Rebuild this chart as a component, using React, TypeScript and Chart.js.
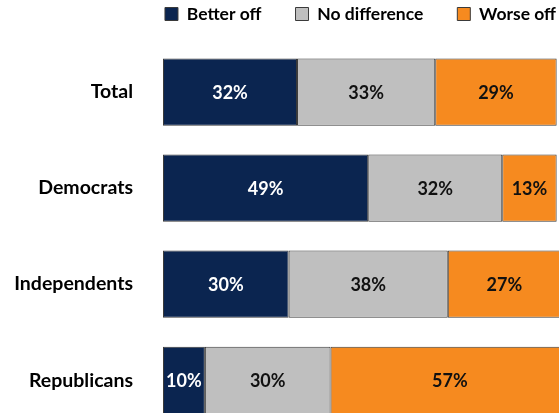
import React, { useEffect, useRef } from "react";
import { Chart, registerables } from "chart.js";

Chart.register(...registerables);

const categories = ["Total", "Democrats", "Independents", "Republicans"];
const betterOff = [32, 49, 30, 10];
const noDifference = [33, 32, 38, 30];
const worseOff = [29, 13, 27, 57];
const seriesNames = ["Better off", "No difference", "Worse off"];
const seriesColors = ["#0b2550", "#bfbfbf", "#f68a1f"];
const labelColors = ["#ffffff", "#111111", "#111111"];

const FONT = "Lato";
const CANVAS_W = 721;
const CANVAS_H = 470;
const AXIS_W = 163;
const PX_PER_PCT = 4.188;

const barLabels = {
  id: "barLabels",
  afterDatasetsDraw(chart: any) {
    const ctx = chart.ctx;
    ctx.save();
    ctx.font = `bold 18px ${FONT}`;
    ctx.textAlign = "center";
    ctx.textBaseline = "middle";
    chart.data.datasets.forEach((ds: any, i: number) => {
      const meta = chart.getDatasetMeta(i);
      meta.data.forEach((el: any, j: number) => {
        const { x, y, base } = el.getProps(["x", "y", "base"], true);
        ctx.fillStyle = labelColors[i];
        ctx.fillText(ds.data[j] + "%", (x + base) / 2, y + 1);
      });
    });
    ctx.restore();
  },
};

export default function App() {
  const ref = useRef<HTMLCanvasElement | null>(null);
  useEffect(() => {
    if (!ref.current) return;
    const data = [betterOff, noDifference, worseOff];
    const chart = new Chart(ref.current, {
      type: "bar",
      data: {
        labels: categories,
        datasets: data.map((d, i) => ({
          label: seriesNames[i],
          data: d,
          backgroundColor: seriesColors[i],
          borderColor: "#3a3a3a",
          borderWidth: 1,
          borderSkipped: false,
          barPercentage: 0.7,
          categoryPercentage: 1,
        })),
      },
      options: {
        indexAxis: "y",
        responsive: false,
        animation: false,
        devicePixelRatio: 1,
        layout: { padding: { top: -28.75, left: 0, right: 0, bottom: 0 } },
        plugins: {
          tooltip: { enabled: false },
          legend: {
            display: true,
            position: "top",
            align: "center",
            labels: {
              boxWidth: 13,
              boxHeight: 13,
              padding: 34,
              color: "#000000",
              font: { family: FONT, size: 17.5, weight: "bold" },
            },
          },
        },
        scales: {
          x: {
            type: "linear",
            position: "top",
            stacked: true,
            min: 0,
            max: (CANVAS_W - AXIS_W) / PX_PER_PCT,
            display: true,
            ticks: { display: false },
            grid: { display: false, drawTicks: true, tickLength: 11.25 },
            border: { display: false },
          },
          y: {
            type: "category",
            stacked: true,
            afterFit: (scale: any) => {
              scale.width = AXIS_W;
            },
            ticks: {
              padding: 30,
              color: "#000000",
              font: { family: FONT, size: 19.5, weight: "bold" },
            },
            grid: { display: false, drawTicks: false },
            border: { display: false },
          },
        },
      },
      plugins: [barLabels],
    });
    return () => chart.destroy();
  }, []);
  return (
    <div
      style={{
        position: "absolute",
        left: 0,
        top: 0,
        width: 559,
        height: 413,
        overflow: "hidden",
        background: "#ffffff",
      }}
    >
      <canvas
        ref={ref}
        width={CANVAS_W}
        height={CANVAS_H}
        style={{ display: "block", width: CANVAS_W, height: CANVAS_H }}
      />
    </div>
  );
}
